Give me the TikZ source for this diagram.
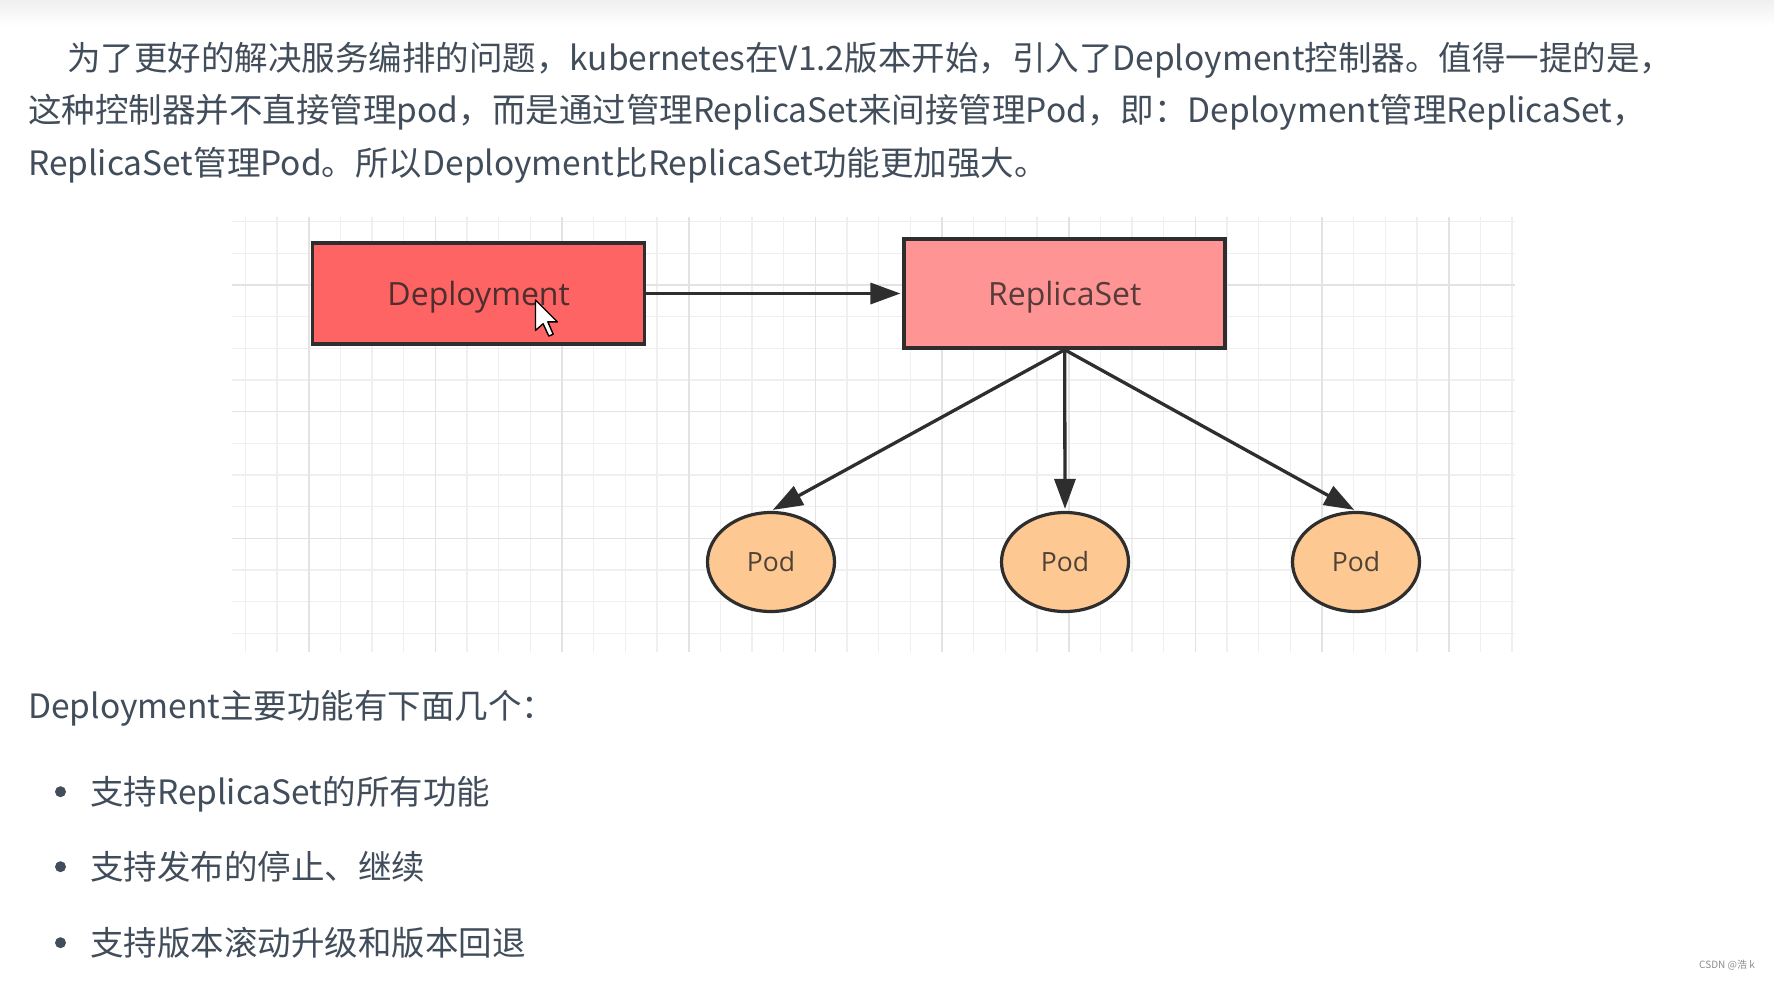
\documentclass[tikz,border=0pt]{standalone}
\usepackage{fontspec}
\setmainfont{Noto Sans CJK SC}
\newfontfamily\labfont{Open Sans}
\usetikzlibrary{arrows.meta,shapes.geometric}
\definecolor{txt}{HTML}{414D5A}
\definecolor{gridminor}{HTML}{EFEFEF}
\definecolor{gridmajor}{HTML}{E3E3E3}
\definecolor{depfill}{HTML}{FE6464}
\definecolor{rsfill}{HTML}{FE9494}
\definecolor{podfill}{HTML}{FDC892}
\definecolor{edge}{HTML}{2E2E2E}
\definecolor{deptext}{HTML}{4E2E2E}
\definecolor{rstext}{HTML}{573A3A}
\definecolor{podtext}{HTML}{4F4236}
\tikzset{
  bodytext/.style={inner sep=0pt, anchor=base west, text=txt, font=\fontsize{33.5}{40}\selectfont},
  boxnode/.style={draw=edge, line width=3.5pt, rectangle, inner sep=0pt, text depth=0pt,
    font=\labfont\fontsize{32}{36}\selectfont},
  podnode/.style={draw=edge, line width=3.2pt, ellipse, fill=podfill, inner sep=0pt,
    minimum width=127pt, minimum height=99pt, text=podtext, font=\labfont\fontsize{26.5}{30}\selectfont},
  conn/.style={draw=edge, line width=3.3pt, -{Triangle[length=30pt,width=21pt]}, shorten >=2pt},
  minorline/.style={draw=gridminor, line width=1.4pt},
  majorline/.style={draw=gridmajor, line width=1.6pt},
  bulletdot/.style={fill=txt, draw=none},
}
\begin{document}
\begin{tikzpicture}[x=1pt,y=-1pt]
\useasboundingbox (0,0) rectangle (1774,980);
\fill[white] (0,0) rectangle (1774,980);
\shade[top color=black!6, bottom color=white] (0,0) rectangle (1774,26);

% grid
\foreach \j in {-2,...,38}{
  \draw[minorline] ({308.7+\j*31.667},217) -- ++(0,435);
}
\foreach \i in {-2,...,11}{
  \draw[minorline] (232,{285+\i*31.667}) -- ++(1283,0);
}
\foreach \j in {0,4,...,36}{
  \draw[majorline] ({308.7+\j*31.667},217) -- ++(0,435);
}
\foreach \i in {0,4,8}{
  \draw[majorline] (232,{285+\i*31.667}) -- ++(1283,0);
}

% body text
\node[bodytext] (l1) at (67,70) {为了更好的解决服务编排的问题，kubernetes在V1.2版本开始，引入了Deployment控制器。值得一提的是，};
\node[bodytext] (l2) at (28,122.5) {这种控制器并不直接管理pod，而是通过管理ReplicaSet来间接管理Pod，即：Deployment管理ReplicaSet，};
\node[bodytext] (l3) at (28,175) {ReplicaSet管理Pod。所以Deployment比ReplicaSet功能更加强大。};

% diagram
\node[boxnode, fill=depfill, text=deptext, minimum width=332pt, minimum height=101pt] (dep) at (478.7,293.5) {Deployment};
\node[boxnode, fill=rsfill, text=rstext, minimum width=321pt, minimum height=109pt] (rs) at (1064.7,293.5) {ReplicaSet};
\node[podnode] (p1) at (771,562) {Pod};
\node[podnode] (p2) at (1065,562) {Pod};
\node[podnode] (p3) at (1356,562) {Pod};

\draw[conn] (dep) -- (rs);
\draw[conn] (rs.south) -- (p1.north);
\draw[conn] (rs.south) -- (p2.north);
\draw[conn] (rs.south) -- (p3.north);

% mouse cursor
\draw[fill=white, draw=black, line width=1.4pt, line join=round]
  (535.5,300) -- ++(0,30.4) -- ++(7.6,-6.65) -- ++(5.7,12.35) -- ++(4.4,-1.9)
  -- ++(-5.35,-12.35) -- ++(9.5,0) -- cycle;

% lower text
\node[bodytext] (h) at (28,718) {Deployment主要功能有下面几个：};
\fill[bulletdot] (60.5,791.7) circle (5.5);
\fill[bulletdot] (60.5,866.7) circle (5.5);
\fill[bulletdot] (60.5,942.7) circle (5.5);
\node[bodytext] (b1) at (90,804) {支持ReplicaSet的所有功能};
\node[bodytext] (b2) at (90,879) {支持发布的停止、继续};
\node[bodytext] (b3) at (90,955) {支持版本滚动升级和版本回退};

\node[inner sep=0pt, anchor=west, text=black!45, font=\fontsize{10}{12}\selectfont] (wm) at (1699,965) {CSDN @浩 k};
\end{tikzpicture}
\end{document}
